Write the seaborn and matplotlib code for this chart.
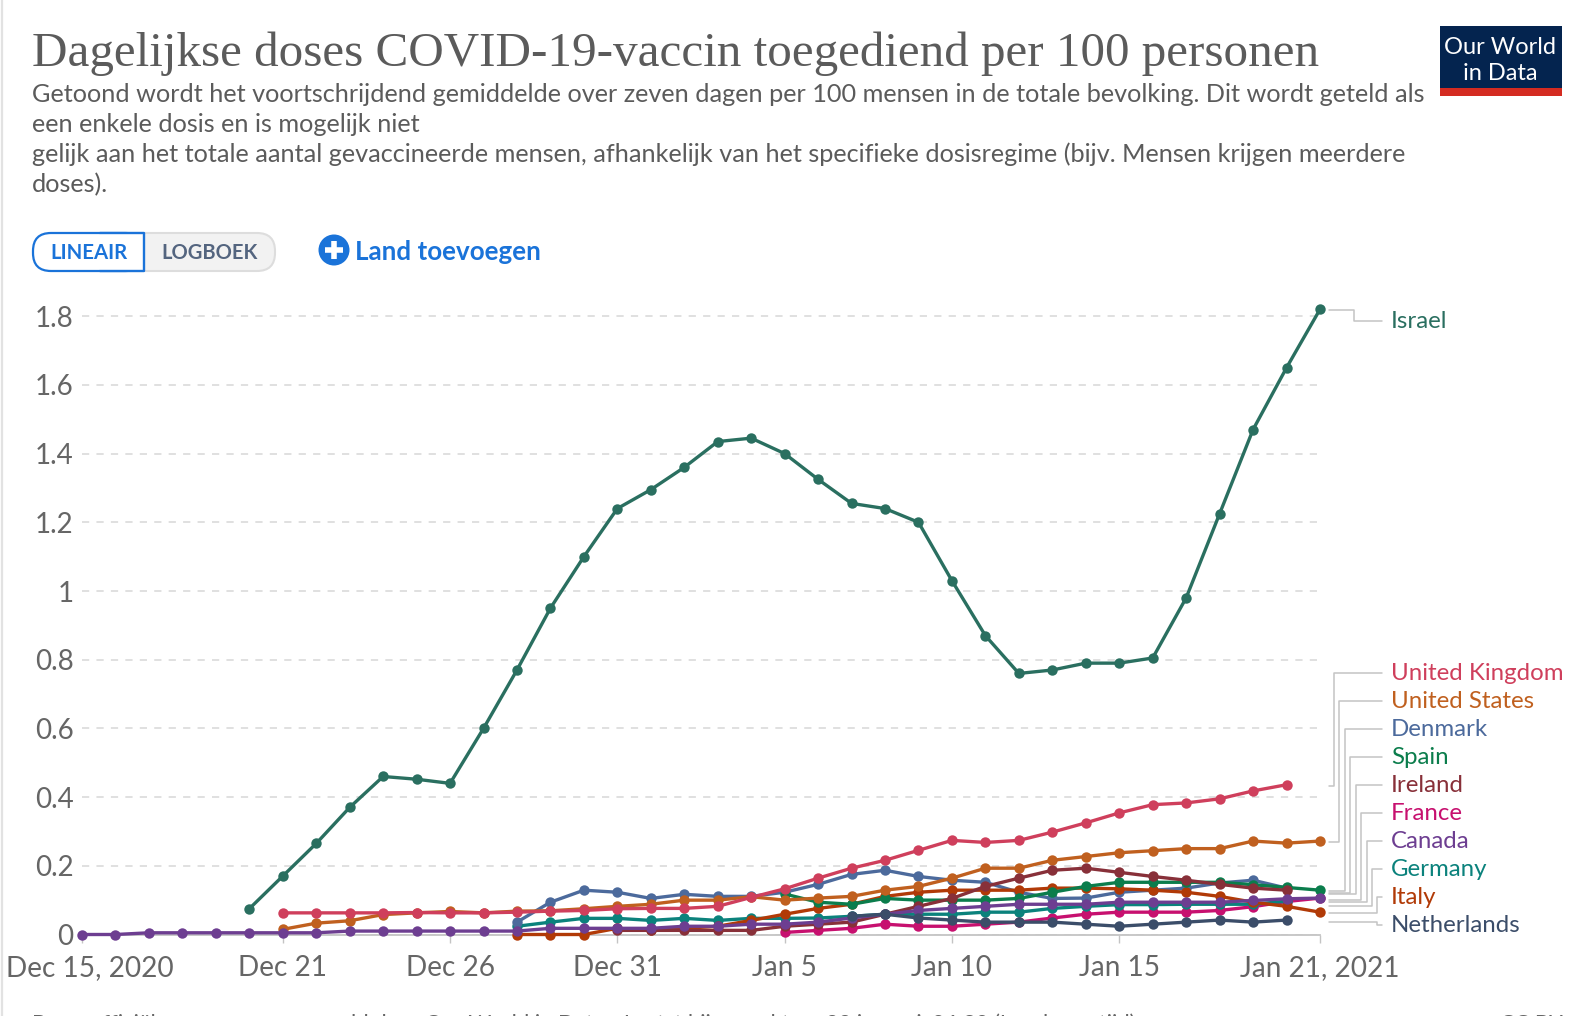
import matplotlib
matplotlib.use("Agg")
import matplotlib.pyplot as plt
import matplotlib.patches as mpatches
import matplotlib.dates as mdates
from matplotlib.transforms import ScaledTranslation
import pandas as pd
import seaborn as sns

# Values, each series starts on its own date
israel = [.075, .17, .265, .37, .46, .452, .44, .60, .77, .95, 1.10, 1.24,
          1.295, 1.36, 1.435, 1.445, 1.40, 1.325, 1.255, 1.24, 1.20, 1.03, .87, .76,
          .77, .79, .79, .805, .98, 1.225, 1.47, 1.65, 1.82]
uk = [.063, .063, .063, .063, .064, .063, .063, .065, .068, .07, .075,
      .076, .076, .082, .108, .133, .164, .193, .216, .245, .274, .268, .274,
      .298, .325, .354, .378, .383, .395, .418, .436]
us = [.015, .033, .04, .058, .063, .067, .063, .068, .069, .075, .082,
      .088, .10, .10, .11, .10, .106, .111, .129, .14, .164, .193, .193,
      .216, .227, .238, .244, .25, .25, .272, .266, .272]
denmark = [.036, .094, .129, .123, .105, .117, .111, .111, .123, .146, .175, .187,
           .169, .158, .152, .123, .105, .106, .123, .129, .135, .15, .158, .135]
spain = [.118, .094, .088, .105, .10, .10, .10, .105, .123, .14, .152, .152, .152,
         .152, .145, .137, .129]
ireland = [.012, .012, .012, .012, .012, .024, .03, .036, .059, .082, .105, .14, .164,
           .187, .193, .181, .169, .158, .146, .135, .129]
france = [.006, .012, .018, .03, .024, .024, .03, .036, .048, .059, .065, .065, .065,
          .07, .081, .096, .106]
canada = [0, 0, .005, .005, .005, .005, .005, .005, .01, .01, .01, .01, .01, .01,
          .018, .018, .018, .018, .024, .024, .03, .03, .036, .048, .059, .07, .076,
          .082, .088, .088, .088, .094, .094, .094, .094, .099, .104, .106]
germany = [.024, .036, .047, .047, .041, .047, .041, .047, .047, .048, .053, .059,
           .059, .059, .065, .065, .076, .082, .087, .087, .088, .088, .088, .097]
italy = [0, 0, 0, .018, .012, .018, .024, .041, .059, .076, .088, .111, .123, .129,
         .129, .129, .135, .135, .133, .129, .123, .111, .094, .082, .065]
netherlands = [.053, .059, .048, .042, .036, .036, .036, .03, .024, .03, .036, .042,
               .036, .042]

names = ["Israel", "United Kingdom", "United States", "Denmark", "Spain", "Ireland",
         "France", "Canada", "Germany", "Italy", "Netherlands"]
values = [israel, uk, us, denmark, spain, ireland, france, canada, germany, italy, netherlands]
starts = ["2020-12-20", "2020-12-21", "2020-12-21", "2020-12-28", "2021-01-05", "2020-12-31",
          "2021-01-05", "2020-12-15", "2020-12-28", "2020-12-28", "2021-01-07"]
colors = {"Israel": "#2a6f60", "United Kingdom": "#cf3f5c", "United States": "#c0601f",
          "Denmark": "#4c6a9c", "Spain": "#0b7d4c", "Ireland": "#883039", "France": "#c7106f",
          "Canada": "#6d3e91", "Germany": "#0b827c", "Italy": "#b13a07", "Netherlands": "#3b4d69"}
draw_order = ["Israel", "France", "Germany", "Denmark", "Italy", "Spain", "United States",
              "United Kingdom", "Ireland", "Canada", "Netherlands"]

title = "Dagelijkse doses COVID-19-vaccin toegediend per 100 personen"
subtitle = ["Getoond wordt het voortschrijdend gemiddelde over zeven dagen per 100 mensen in de totale bevolking. Dit wordt geteld als",
            "een enkele dosis en is mogelijk niet",
            "gelijk aan het totale aantal gevaccineerde mensen, afhankelijk van het specifieke dosisregime (bijv. Mensen krijgen meerdere",
            "doses)."]
source = "Bron: officiële gegevens verzameld door Our World in Data - Laatst bijgewerkt op 22 januari, 06:30 (Londense tijd)"

tick_dates = ["2020-12-15", "2020-12-21", "2020-12-26", "2020-12-31", "2021-01-05",
              "2021-01-10", "2021-01-15", "2021-01-21"]
tick_labels = ["Dec 15, 2020", "Dec 21", "Dec 26", "Dec 31", "Jan 5", "Jan 10", "Jan 15", "Jan 21, 2021"]
y_ticks = [0, .2, .4, .6, .8, 1, 1.2, 1.4, 1.6, 1.8]

frames = []
for name, vals, start in zip(names, values, starts):
    frames.append(pd.DataFrame({"date": pd.date_range(start, periods=len(vals)),
                                "value": vals, "country": name}))
df = pd.concat(frames)

sns.set_theme(style="white")
plt.rcParams['font.family'] = ['Lato', 'DejaVu Sans']

W, H = 1584, 1016
fig = plt.figure(figsize=(W / 100, H / 100), dpi=100)
ax = fig.add_axes([82 / W, 1 - 934.5 / H, (1320 - 82) / W, 636.5 / H])

sns.lineplot(data=df, x="date", y="value", hue="country", hue_order=draw_order, palette=colors,
             marker="o", markersize=7.5, markeredgewidth=0, linewidth=2.4, errorbar=None,
             legend=False, ax=ax, clip_on=False, zorder=3)

ax.set_xlim(pd.Timestamp("2020-12-15"), pd.Timestamp("2021-01-21"))
ax.set_ylim(0, 636.5 / 343.5)
ax.set_xlabel("")
ax.set_ylabel("")
ax.set_yticks(y_ticks)
ax.set_yticklabels([f"{v:g}" for v in y_ticks], color="#666666", fontsize=20)
ax.set_xticks(mdates.date2num(pd.to_datetime(tick_dates)))
ax.set_xticklabels(tick_labels, color="#666666", fontsize=20.2)
ax.tick_params(axis="x", length=6, width=1, color="#c4c4c4", pad=8.5, bottom=True)
ax.tick_params(axis="y", length=0, pad=6)
# first label is pushed right so it stays inside the frame
first = ax.get_xticklabels()[0]
first.set_transform(first.get_transform() + ScaledTranslation(8 / 100, 0, fig.dpi_scale_trans))
ax.grid(axis="y", color="#dddddd", linestyle=(0, (4, 4)), linewidth=1.3)
ax.grid(axis="x", visible=False)
ax.set_axisbelow(True)
sns.despine(ax=ax, left=True, top=True, right=True)
ax.spines["bottom"].set_color("#c4c4c4")
ax.spines["bottom"].set_linewidth(1.3)

# overlay in pixel coordinates for header, buttons, logo and label leaders
top = fig.add_axes([0, 0, 1, 1], zorder=5)
top.set_xlim(0, W)
top.set_ylim(H, 0)
top.axis("off")
top.patch.set_alpha(0)

top.plot([1.5, 1.5], [0, H], color="#e2e2e2", lw=1.6)

top.text(32, 66, title, family=["Liberation Serif", "DejaVu Serif"], fontsize=35.35, color="#5b5b5b",
         va="baseline")
for i, line in enumerate(subtitle):
    top.text(32, 102 + i * 30, line, fontsize=18.15, color="#5b5b5b", va="baseline")

# buttons
top.add_patch(mpatches.FancyBboxPatch((60, 233), 215, 38, boxstyle="round,pad=0,rounding_size=18",
                                      fc="#f2f2f2", ec="#dddddd", lw=1.5))
top.add_patch(mpatches.FancyBboxPatch((33, 233), 110, 38, boxstyle="round,pad=0,rounding_size=18",
                                      fc="white", ec="#1a73d9", lw=1.6))
top.add_patch(mpatches.Rectangle((100, 233), 44, 38, fc="white", ec="none"))
top.plot([100, 144, 144, 100], [233, 233, 271, 271], color="#1a73d9", lw=1.7)
top.text(88.5, 253, "LINEAIR", fontsize=14.7, fontweight="bold", color="#1a73d9", ha="center", va="center")
top.text(210, 253, "LOGBOEK", fontsize=14.5, fontweight="bold", color="#54657f", ha="center", va="center")
top.add_patch(mpatches.Circle((334, 250), 15.5, fc="#1a73d9", ec="none"))
top.plot([325, 343], [250, 250], color="white", lw=4, solid_capstyle="butt")
top.plot([334, 334], [241, 259], color="white", lw=4, solid_capstyle="butt")
top.text(355, 252, "Land toevoegen", fontsize=18.7, fontweight="bold", color="#1a73d9", va="center")

# logo
top.add_patch(mpatches.Rectangle((1440, 26), 122, 70, fc="#04244f", ec="none"))
top.add_patch(mpatches.Rectangle((1440, 88), 122, 8, fc="#d42b21", ec="none"))
top.text(1500, 48, "Our World", fontsize=17, color="white", ha="center", va="center")
top.text(1500, 74, "in Data", fontsize=17, color="white", ha="center", va="center")

# series labels with their leader lines
label_names = ["United Kingdom", "United States", "Denmark", "Spain", "Ireland", "France",
               "Canada", "Germany", "Italy", "Netherlands"]
leader_start = [786, 842, 891, 892.5, 893.5, 900, 902, 906, 913, 922]
leader_elbow = [1334, 1339, 1345, 1350, 1356, 1361, 1367, 1372, 1377, 1377]
label_y = [673, 701, 729, 757, 785, 813, 841, 869, 897, 925]
for name, y0, ex, ly in zip(label_names, leader_start, leader_elbow, label_y):
    top.plot([1329, ex, ex, 1382], [y0, y0, ly, ly], color="#c4c4c4", lw=1.1)
    top.text(1391, ly + 1, name, fontsize=17.3, color=colors[name], va="center")
top.plot([1329, 1354, 1354, 1382], [310, 310, 321, 321], color="#c4c4c4", lw=1.1)
top.text(1391, 322, "Israel", fontsize=17.3, color=colors["Israel"], va="center")

# source line is cut off by the bottom edge in the original
top.text(32, 1030, source, fontsize=15.85, color="#666666", va="baseline", clip_on=True)
top.text(1563, 1030, "CC BY", fontsize=15.85, color="#666666", ha="right", va="baseline", clip_on=True)

fig.savefig("out.png", dpi=100, facecolor="white")
